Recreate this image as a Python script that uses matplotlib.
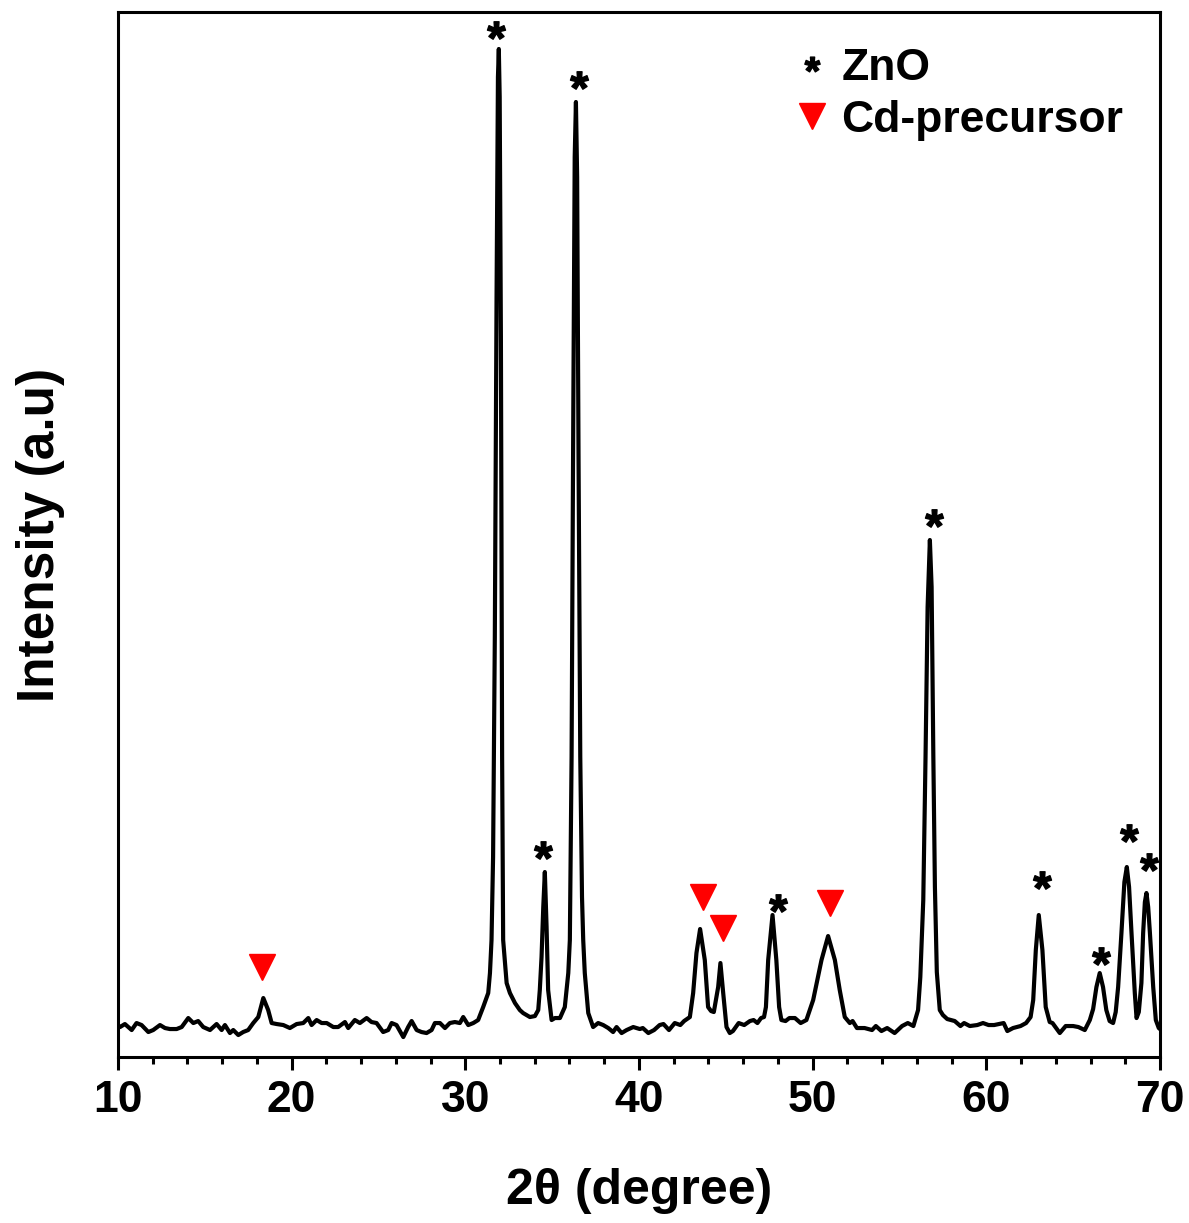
import numpy as np
import matplotlib.pyplot as plt
from matplotlib.font_manager import FontProperties
from matplotlib.textpath import TextPath
from matplotlib.path import Path
from matplotlib.lines import Line2D

# XRD pattern (2theta in degree, intensity in a.u.)
two_theta = [10.0, 10.12, 10.40, 10.79, 11.07, 11.36, 11.75, 12.03, 12.42, 12.71,
             12.99, 13.38, 13.67, 14.05, 14.34, 14.62, 14.91, 15.30, 15.68, 15.97,
             16.16, 16.45, 16.64, 16.93, 17.21, 17.50, 17.79, 18.08, 18.37, 18.65,
             18.85, 19.14, 19.52, 19.90, 20.29, 20.67, 20.96, 21.15, 21.44, 21.73,
             22.02, 22.40, 22.68, 23.07, 23.26, 23.64, 23.93, 24.32, 24.60, 24.89,
             25.27, 25.56, 25.76, 26.04, 26.43, 26.71, 26.91, 27.20, 27.48, 27.77,
             28.06, 28.25, 28.54, 28.83, 29.11, 29.40, 29.69, 29.88, 30.17, 30.46,
             30.74, 31.03, 31.32, 31.42, 31.51, 31.60, 31.70, 31.80, 31.88, 31.93,
             31.98, 32.05, 32.12, 32.18, 32.38, 32.57, 32.86, 33.14, 33.33, 33.72,
             34.01, 34.20, 34.29, 34.39, 34.49, 34.58, 34.68, 34.77, 34.97, 35.16,
             35.45, 35.73, 35.93, 36.02, 36.12, 36.22, 36.30, 36.37, 36.44, 36.52,
             36.62, 36.72, 36.79, 36.88, 37.08, 37.36, 37.65, 37.94, 38.23, 38.51,
             38.71, 39.00, 39.29, 39.67, 40.05, 40.22, 40.54, 40.87, 41.19, 41.41,
             41.73, 42.06, 42.38, 42.60, 42.93, 43.12, 43.31, 43.52, 43.79, 43.98,
             44.15, 44.31, 44.56, 44.69, 44.85, 45.04, 45.23, 45.41, 45.74, 46.06,
             46.39, 46.60, 46.82, 47.03, 47.20, 47.31, 47.44, 47.69, 47.91, 48.07,
             48.20, 48.44, 48.66, 48.98, 49.31, 49.64, 50.03, 50.51, 50.89, 51.28,
             51.56, 51.85, 52.14, 52.30, 52.55, 52.99, 53.42, 53.64, 53.96, 54.29,
             54.72, 55.15, 55.48, 55.80, 56.07, 56.20, 56.37, 56.50, 56.62, 56.75,
             56.85, 56.95, 57.04, 57.15, 57.32, 57.50, 57.75, 58.18, 58.51, 58.72,
             59.05, 59.48, 59.81, 60.13, 60.45, 61.00, 61.21, 61.54, 61.97, 62.29,
             62.55, 62.70, 62.85, 63.02, 63.23, 63.42, 63.65, 63.81, 64.23, 64.57,
             65.00, 65.30, 65.67, 65.96, 66.15, 66.34, 66.53, 66.72, 66.91, 67.10,
             67.30, 67.45, 67.59, 67.78, 67.95, 68.09, 68.22, 68.36, 68.55, 68.65,
             68.78, 68.93, 69.03, 69.13, 69.22, 69.32, 69.42, 69.61, 69.76, 69.93,
             70.0]
intensity = [31, 30, 33, 27, 34, 32, 25, 27, 32, 29,
             28, 28, 30, 39, 34, 36, 30, 27, 33, 27,
             32, 24, 27, 22, 25, 27, 34, 40, 59, 47,
             34, 33, 32, 29, 33, 34, 39, 32, 37, 34,
             34, 30, 30, 35, 29, 37, 34, 39, 35, 34,
             25, 27, 34, 32, 20, 30, 36, 27, 25, 24,
             27, 34, 34, 29, 34, 35, 34, 40, 32, 34,
             37, 50, 64, 84, 117, 200, 420, 760, 980, 1008,
             960, 720, 300, 117, 74, 64, 54, 47, 44, 40,
             41, 47, 67, 100, 150, 185, 130, 67, 37, 39,
             39, 50, 84, 117, 300, 650, 900, 955, 880, 600,
             300, 160, 117, 84, 44, 30, 34, 32, 29, 25,
             30, 24, 27, 30, 28, 29, 24, 27, 32, 33,
             27, 34, 32, 36, 40, 64, 104, 128, 97, 50,
             46, 45, 70, 94, 64, 30, 24, 26, 34, 32,
             36, 37, 34, 39, 40, 50, 97, 142, 97, 50,
             37, 36, 39, 39, 34, 37, 57, 97, 121, 97,
             67, 40, 34, 36, 29, 29, 27, 31, 26, 29,
             24, 31, 34, 31, 47, 80, 157, 300, 450, 517,
             470, 300, 170, 85, 47, 42, 38, 36, 31, 34,
             31, 32, 34, 32, 32, 34, 26, 29, 31, 34,
             40, 57, 107, 142, 107, 50, 35, 34, 24, 31,
             31, 30, 27, 37, 48, 70, 84, 70, 47, 36,
             34, 45, 70, 124, 175, 190, 170, 124, 64, 39,
             45, 74, 124, 155, 164, 150, 124, 70, 37, 29,
             28]

# peak markers
zno_x = [31.74, 34.47, 36.55, 48.01, 56.98, 63.22, 66.59, 68.20, 69.35]
zno_y = [1027, 207, 977, 154, 539, 177, 101, 224, 195]
cd_x = [18.29, 43.68, 44.81, 50.99]
cd_y = [90, 160, 129, 154]


def star_marker():
    fp = FontProperties(family='Liberation Sans', weight='bold')
    tp = TextPath((0, 0), '*', prop=fp)
    v = tp.vertices.copy()
    codes = tp.codes
    for i in range(len(codes)):
        if codes[i] == Path.CLOSEPOLY:
            v[i] = v[i - 1]
    c = (v.min(axis=0) + v.max(axis=0)) / 2
    return Path(v - c, codes)


def main():
    plt.rcParams['font.family'] = ['Liberation Sans', 'DejaVu Sans']
    plt.rcParams['font.weight'] = 'bold'

    fig = plt.figure(figsize=(11.89, 12.23), dpi=100)
    ax = fig.add_axes([0.0992, 0.1357, 0.8764, 0.8545])

    star = star_marker()
    ax.plot(two_theta, intensity, color='black', lw=3.0)
    ax.plot(zno_x, zno_y, ls='none', marker=star, ms=13, color='black')
    ax.plot(cd_x, cd_y, ls='none', marker='v', ms=19, color='red', mec='red')

    ax.set_xlim(10, 70)
    ax.set_ylim(0, 1045)
    ax.set_xticks(range(10, 71, 10))
    ax.set_xticks(np.arange(10, 70.1, 2), minor=True)
    ax.set_yticks([])
    ax.tick_params(axis='x', which='major', direction='out', length=9.5,
                   width=2.2, labelsize=32, pad=7)
    ax.tick_params(axis='x', which='minor', direction='out', length=5, width=2.2)
    for s in ax.spines.values():
        s.set_linewidth(2.2)

    ax.set_xlabel('2θ (degree)', fontsize=36, fontweight='bold', labelpad=34)
    ax.set_ylabel('Intensity (a.u)', fontsize=37, fontweight='bold', labelpad=38)

    handles = [Line2D([], [], ls='none', marker=star, ms=11, color='black'),
               Line2D([], [], ls='none', marker='v', ms=19, color='red', mec='red')]
    ax.legend(handles, ['ZnO', 'Cd-precursor'], loc='upper left',
              bbox_to_anchor=(0.645, 0.966), frameon=False, fontsize=32,
              handlelength=1.0, handletextpad=0.15, labelspacing=0.25,
              borderpad=0, borderaxespad=0)

    fig.savefig('out.png', dpi=100)


if __name__ == "__main__":
    main()
